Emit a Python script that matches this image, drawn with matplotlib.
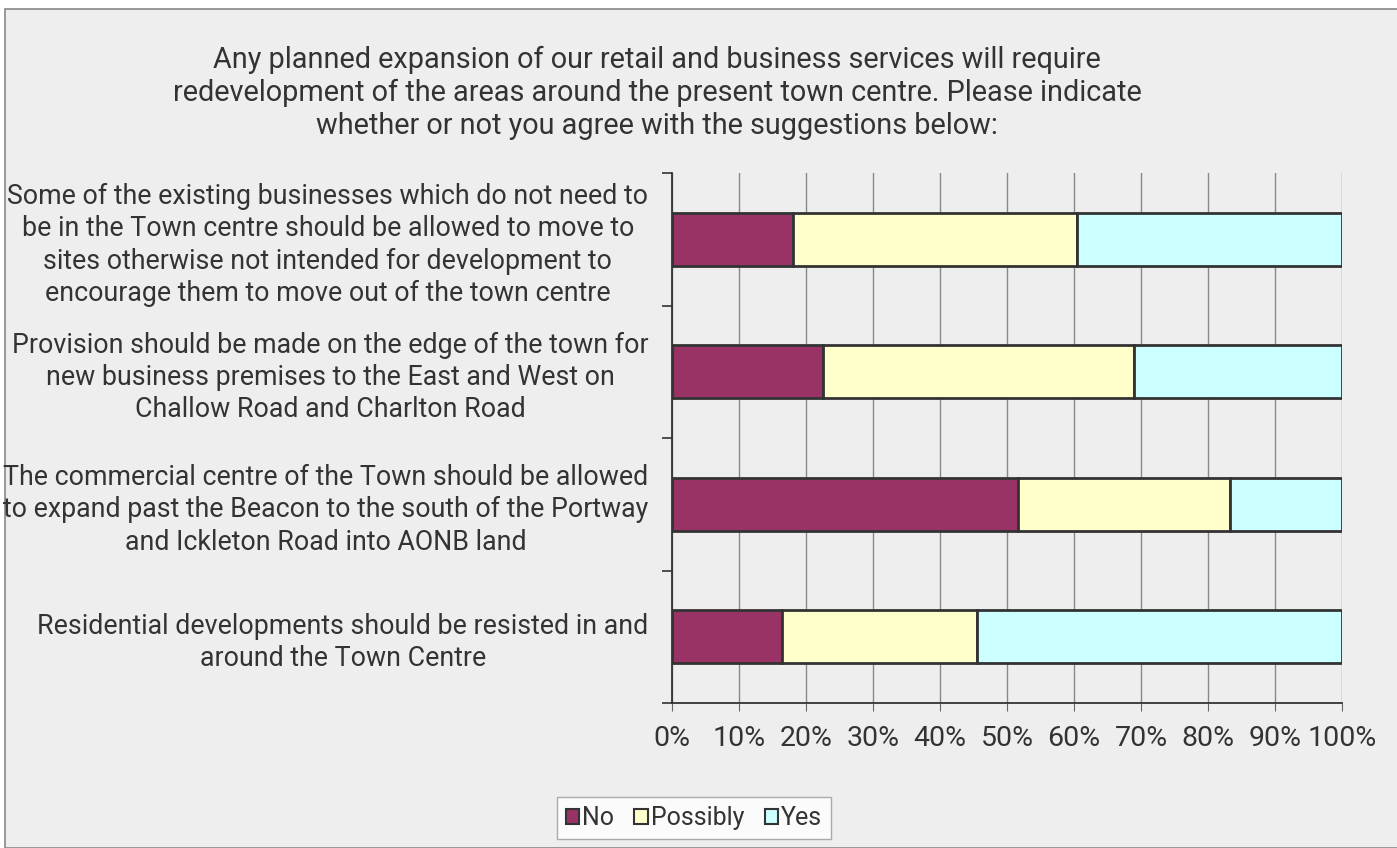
import matplotlib
matplotlib.use("Agg")
import matplotlib.pyplot as plt
from matplotlib.patches import Rectangle
import numpy as np

plt.rcParams['font.family'] = ['Roboto', 'DejaVu Sans']

title = ("Any planned expansion of our retail and business services will require\n"
         "redevelopment of the areas around the present town centre. Please indicate\n"
         "whether or not you agree with the suggestions below:")

categories = [
    "Some of the existing businesses which do not need to\n"
    "be in the Town centre should be allowed to move to\n"
    "sites otherwise not intended for development to\n"
    "encourage them to move out of the town centre",
    "Provision should be made on the edge of the town for\n"
    "new business premises to the East and West on\n"
    "Challow Road and Charlton Road",
    "The commercial centre of the Town should be allowed\n"
    "to expand past the Beacon to the south of the Portway\n"
    "and Ickleton Road into AONB land",
    "Residential developments should be resisted in and\n"
    "around the Town Centre",
]

no_pct = [18.1, 22.5, 51.6, 16.4]
possibly_pct = [42.3, 46.5, 31.7, 29.1]
yes_pct = [39.6, 31.0, 16.7, 54.5]

series_names = ["No", "Possibly", "Yes"]
series_colors = ["#993366", "#ffffcc", "#ccffff"]
x_ticks = np.arange(0, 101, 10)
x_tick_labels = [f"{v}%" for v in x_ticks]

W, H = 1397, 848
fig = plt.figure(figsize=(W / 100, H / 100), dpi=100)
fig.patch.set_facecolor("white")

# chart area panel
fig.patches.append(Rectangle((5 / W, 0), 1.0, 1 - 9 / H, transform=fig.transFigure,
                             facecolor="#eeeeee", edgecolor="#888888", linewidth=1.2,
                             zorder=-10))

ax = fig.add_axes([672 / W, 1 - 703 / H, (1342 - 672) / W, (703 - 173) / H])
ax.set_zorder(2)
ax.set_facecolor("#eeeeee")

y = np.arange(len(categories))
left = np.zeros(len(categories))
for name, vals, col in zip(series_names, [no_pct, possibly_pct, yes_pct], series_colors):
    ax.barh(y, vals, left=left, height=0.4, color=col, edgecolor="#333333",
            linewidth=2, label=name, zorder=3)
    left = left + np.array(vals)

ax.set_xlim(0, 100)
ax.set_ylim(len(categories) - 0.5, -0.5)
ax.set_xticks(x_ticks)
ax.set_xticklabels(x_tick_labels, fontsize=20.5, color="#333333")
ax.tick_params(axis="x", length=6, color="#666666", pad=10)
ax.grid(axis="x", color="#888888", linewidth=1, zorder=0)

ax.set_yticks(y)
ax.set_yticklabels(categories, fontsize=19.3, color="#333333", ha="right",
                   multialignment="center", linespacing=1.25)
ax.tick_params(axis="y", which="major", length=0, pad=17)
ax.set_yticks(np.arange(-0.5, len(categories), 1.0), minor=True)
ax.tick_params(axis="y", which="minor", length=7, color="#333333", width=1.2)

for s in ["top", "right"]:
    ax.spines[s].set_visible(False)
ax.spines["left"].set_color("#333333")
ax.spines["left"].set_linewidth(1.3)
ax.spines["bottom"].set_color("#333333")
ax.spines["bottom"].set_linewidth(1.3)

fig.text(657 / W, 1 - 93 / H, title, ha="center", va="center", fontsize=20.8,
         color="#333333", linespacing=1.22)

leg = fig.legend(loc="center", bbox_to_anchor=(694 / W, 1 - 818 / H), ncol=3,
                 frameon=True, fancybox=False, fontsize=18, handlelength=0.55,
                 handleheight=0.55, handletextpad=0.12, columnspacing=0.8,
                 borderpad=0.35)
leg.get_frame().set_edgecolor("#999999")
leg.get_frame().set_facecolor("white")
leg.get_frame().set_linewidth(1)
for t in leg.get_texts():
    t.set_color("#333333")
for h in leg.legend_handles:
    h.set_linewidth(1.5)

fig.savefig("out.png", dpi=100, facecolor=fig.get_facecolor())
